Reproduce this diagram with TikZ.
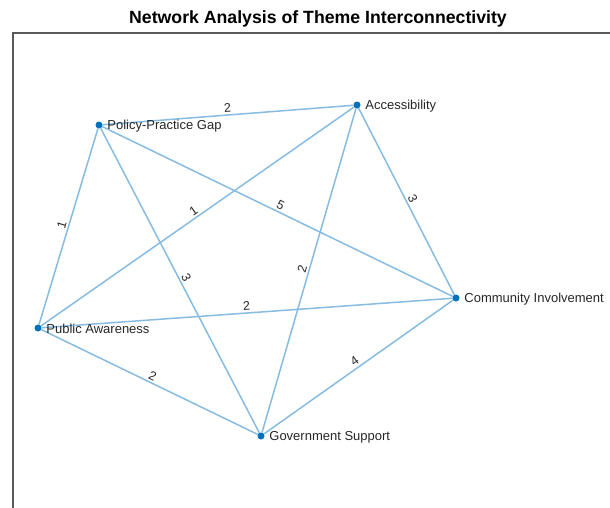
\documentclass[tikz,border=0pt]{standalone}
\usepackage{fontspec}
\setmainfont{Liberation Sans}
\usetikzlibrary{backgrounds}
\definecolor{edgec}{RGB}{135,188,224}
\definecolor{nodec}{RGB}{0,114,189}
\definecolor{txt}{RGB}{38,38,38}
\definecolor{axisc}{RGB}{90,90,90}
\begin{document}
\begin{tikzpicture}[x=1pt,y=-1pt,
  vert/.style={circle,fill=nodec,inner sep=0pt,minimum size=7pt},
  vlabel/.style={text=txt,font=\fontsize{13}{15}\selectfont,inner sep=0pt,label distance=4.5pt,yshift=-1.2pt},
  edge/.style={draw=edgec,line width=1.5pt},
  elabel/.style={midway,sloped,above,text=txt,font=\fontsize{12.5}{14}\selectfont,inner sep=2pt}]
\useasboundingbox (0,0) rectangle (610,507);
\coordinate (axbl) at (13,508);
\coordinate (axtl) at (13,33);
\coordinate (axtr) at (611,33);
\draw[axisc,line width=1.2pt] (axbl) -- (axtl) -- (axtr);
\node[font=\bfseries\fontsize{17.7}{20}\selectfont,text=black] (title) at (318,19) {Network Analysis of Theme Interconnectivity};
\node[vert,label={[vlabel]right:Policy-Practice Gap}] (ppg) at (99,125) {};
\node[vert,label={[vlabel]right:Accessibility}] (acc) at (357,105) {};
\node[vert,label={[vlabel]right:Community Involvement}] (ci) at (456,298) {};
\node[vert,label={[vlabel]right:Government Support}] (gs) at (261,436) {};
\node[vert,label={[vlabel]right:Public Awareness}] (pa) at (38,328) {};
\begin{scope}[on background layer]
\draw[edge] (ppg) -- node[elabel]{2} (acc);
\draw[edge] (ppg) -- node[elabel]{1} (pa);
\draw[edge] (ppg) -- node[elabel]{3} (gs);
\draw[edge] (ppg) -- node[elabel]{5} (ci);
\draw[edge] (acc) -- node[elabel]{1} (pa);
\draw[edge] (acc) -- node[elabel]{2} (gs);
\draw[edge] (acc) -- node[elabel]{3} (ci);
\draw[edge] (pa) -- node[elabel]{2} (ci);
\draw[edge] (pa) -- node[elabel]{2} (gs);
\draw[edge] (gs) -- node[elabel]{4} (ci);
\end{scope}
\end{tikzpicture}
\end{document}
